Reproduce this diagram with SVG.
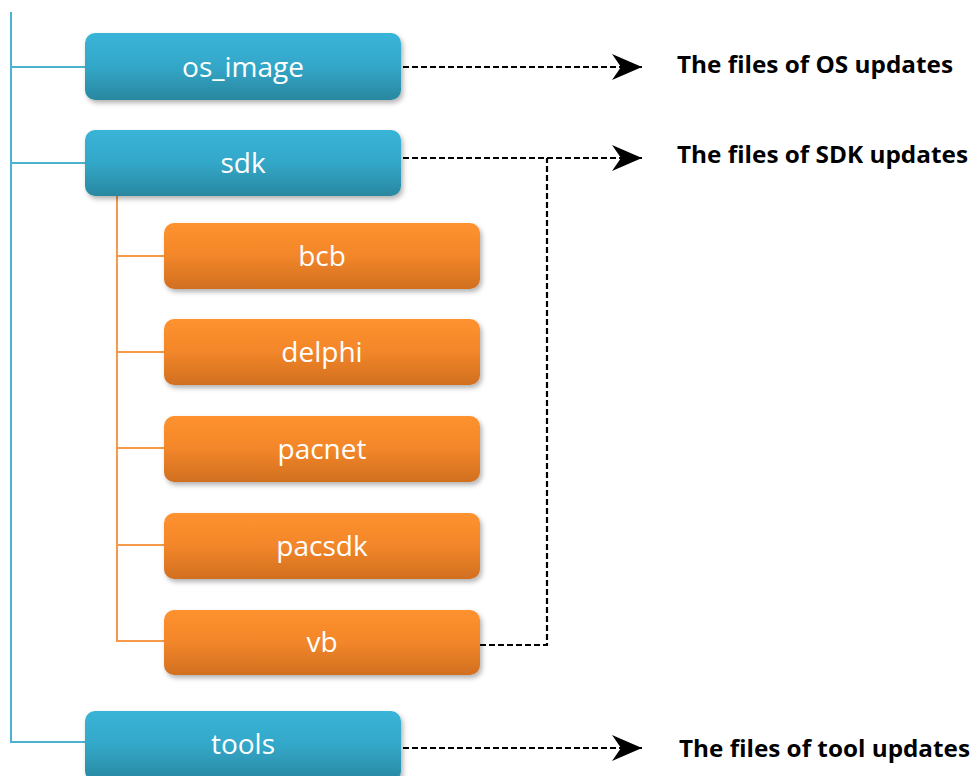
<svg xmlns="http://www.w3.org/2000/svg" width="976" height="776" viewBox="0 0 976 776">
<defs>
<linearGradient id="gb" x1="0" y1="0" x2="0" y2="1"><stop offset="0" stop-color="#39b4d8"/><stop offset="0.5" stop-color="#33a7c8"/><stop offset="1" stop-color="#2987a0"/></linearGradient>
<linearGradient id="go" x1="0" y1="0" x2="0" y2="1"><stop offset="0" stop-color="#ff922e"/><stop offset="0.5" stop-color="#f2862a"/><stop offset="1" stop-color="#d16f1f"/></linearGradient>
<filter id="sh" x="-10%" y="-20%" width="120%" height="150%"><feDropShadow dx="2" dy="3" stdDeviation="2.5" flood-color="#000" flood-opacity="0.3"/></filter>
<marker id="ah" markerUnits="userSpaceOnUse" markerWidth="32" markerHeight="26" refX="30" refY="13" orient="auto"><path d="M0,0 L30,13 L0,26 L9,13 Z" fill="#000"/></marker>
<style>
.b{fill:url(#gb);filter:url(#sh)}
.o{fill:url(#go);filter:url(#sh)}
.t{font-family:"Open Sans","Liberation Sans",sans-serif;font-size:28px;fill:#fff;text-anchor:middle}
.l{font-family:"Open Sans","Liberation Sans",sans-serif;font-size:23px;font-weight:bold;fill:#000}
.bl{stroke:#4ab3d0;stroke-width:2;fill:none}
.ol{stroke:#f49a4a;stroke-width:2;fill:none}
.d{stroke:#000;stroke-width:2.2;stroke-dasharray:6,3;fill:none}
</style>
</defs>
<g id="connectors">
<path class="bl" d="M11,12 V742 H85 M11,67 H85 M11,163 H85"/>
<path class="ol" d="M117,196 V641 H164 M117,256 H164 M117,352 H164 M117,448 H164 M117,545 H164"/>
<path class="d" d="M403,67 H642" marker-end="url(#ah)"/>
<path class="d" d="M403,158 H642" marker-end="url(#ah)"/>
<path class="d" d="M403,748 H642" marker-end="url(#ah)"/>
<path class="d" d="M480,645 H547 V158"/>
</g>
<g id="os_image"><rect class="b" x="85" y="33" width="316" height="67" rx="10"/><text class="t" x="243" y="77">os_image</text></g>
<g id="sdk"><rect class="b" x="85" y="130" width="316" height="66" rx="10"/><text class="t" x="243" y="173">sdk</text></g>
<g id="bcb"><rect class="o" x="164" y="223" width="316" height="66" rx="10"/><text class="t" x="322" y="266">bcb</text></g>
<g id="delphi"><rect class="o" x="164" y="319" width="316" height="66" rx="10"/><text class="t" x="322" y="362">delphi</text></g>
<g id="pacnet"><rect class="o" x="164" y="416" width="316" height="66" rx="10"/><text class="t" x="322" y="459">pacnet</text></g>
<g id="pacsdk"><rect class="o" x="164" y="513" width="316" height="66" rx="10"/><text class="t" x="322" y="556">pacsdk</text></g>
<g id="vb"><rect class="o" x="164" y="610" width="316" height="65" rx="10"/><text class="t" x="322" y="652">vb</text></g>
<g id="tools"><rect class="b" x="85" y="711" width="316" height="70" rx="10"/><text class="t" x="243" y="754">tools</text></g>
<g id="labels">
<text class="l" x="677" y="73" textLength="276" lengthAdjust="spacingAndGlyphs">The files of OS updates</text>
<text class="l" x="677" y="163" textLength="291" lengthAdjust="spacingAndGlyphs">The files of SDK updates</text>
<text class="l" x="679" y="757" textLength="291" lengthAdjust="spacingAndGlyphs">The files of tool updates</text>
</g>
</svg>
